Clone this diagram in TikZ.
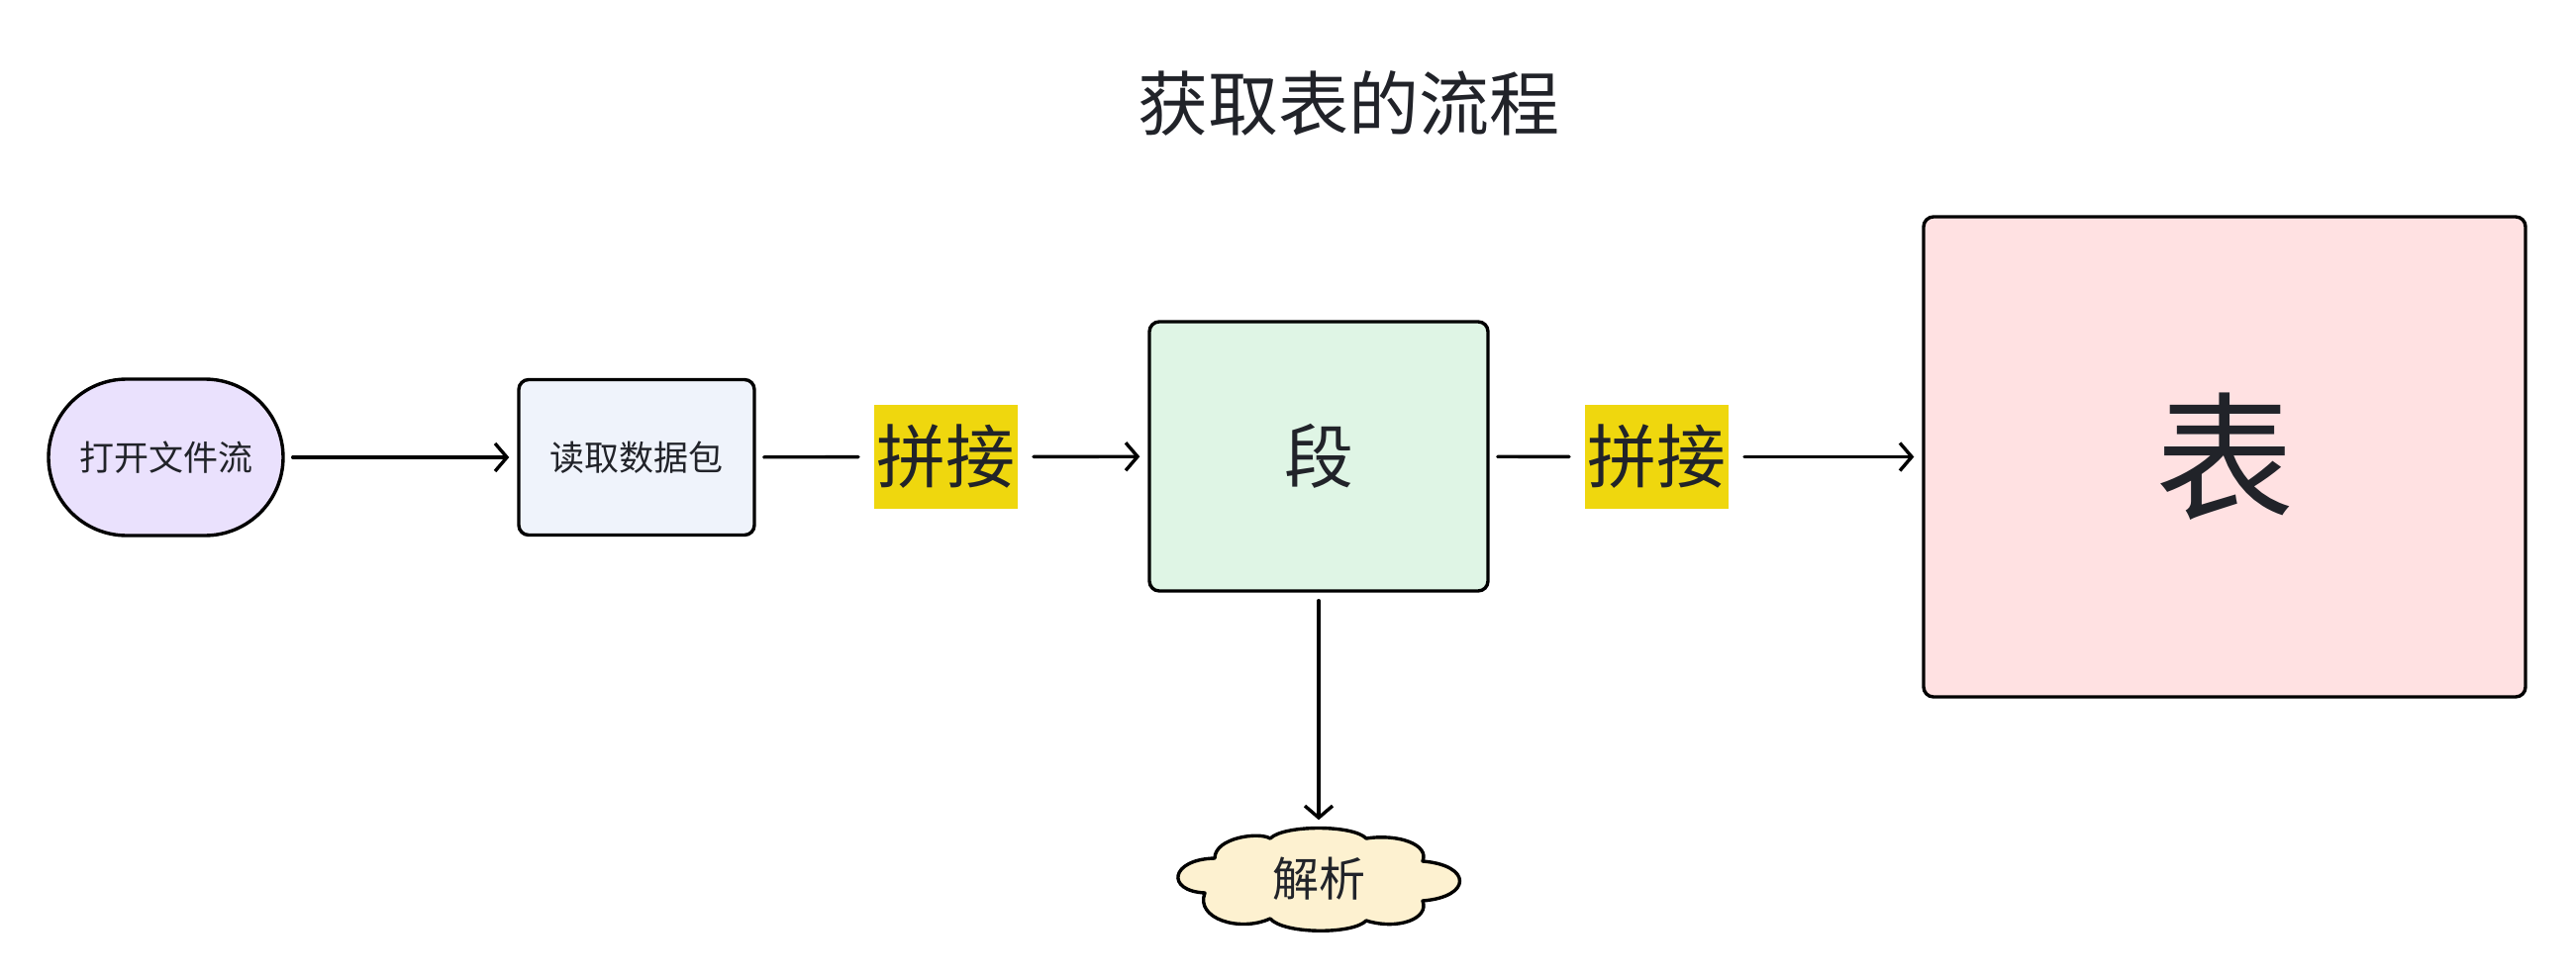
\documentclass[tikz,border=0pt]{standalone}
\usepackage{fontspec}
\setmainfont{Noto Sans CJK SC}
\usetikzlibrary{arrows.meta,shapes.misc}
\definecolor{txt}{HTML}{212329}
\definecolor{lav}{HTML}{EAE1FD}
\definecolor{blu}{HTML}{EFF3FB}
\definecolor{grn}{HTML}{DFF5E5}
\definecolor{pnk}{HTML}{FFE1E2}
\definecolor{cld}{HTML}{FDF1D0}
\definecolor{ylw}{HTML}{EFD70E}
\begin{document}
\begin{tikzpicture}[x=1pt,y=-1pt,
  shp/.style={draw=black,line width=3.4pt,text=txt,inner sep=0pt},
  boxnode/.style={shp,rectangle,rounded corners=10pt},
  lbl/.style={fill=ylw,text=txt,inner xsep=2.5pt,inner ysep=0pt,minimum height=105pt,outer sep=8pt,font=\fontsize{70}{70}\selectfont},
  conn/.style={line width=3.4pt,line cap=round,shorten >=8pt,shorten <=8pt},
  arr/.style={conn,-{Straight Barb[length=12pt,width=28pt,line width=3.4pt]}}]
\useasboundingbox[fill=white] (0,0) rectangle (2602,990);
\node[text=txt,font=\fontsize{71}{80}\selectfont] (title) at (1362,104) {获取表的流程};
\node[shp,rounded rectangle,fill=lav,minimum width=237pt,minimum height=158pt,font=\fontsize{35}{40}\selectfont] (open) at (167.5,462) {打开文件流};
\node[boxnode,fill=blu,minimum width=238pt,minimum height=157pt,font=\fontsize{35}{40}\selectfont] (read) at (643,462) {读取数据包};
\node[lbl] (j1) at (955.5,461.5) {拼接};
\node[boxnode,fill=grn,minimum width=342pt,minimum height=272pt,font=\fontsize{70}{70}\selectfont] (seg) at (1332,461) {段};
\node[lbl] (j2) at (1673.5,461.5) {拼接};
\node[boxnode,fill=pnk,minimum width=608pt,minimum height=485pt,font=\fontsize{140}{140}\selectfont] (tab) at (2247,461.5) {表};
\coordinate (pc) at (1332,888);
\begin{scope}[shift={(pc)}]
\draw[line width=3.4pt,fill=cld,line join=round]
  (-105,-21) .. controls (-105,-42) and (-60,-48) .. (-49,-41)
  .. controls (-35,-55) and (35,-55) .. (48,-41)
  .. controls (80,-46) and (112,-35) .. (105,-18)
  .. controls (155,-14) and (155,18) .. (105,22)
  .. controls (112,40) and (80,52) .. (48,42)
  .. controls (35,56) and (-35,56) .. (-49,40)
  .. controls (-80,54) and (-125,40) .. (-115,14)
  .. controls (-155,12) and (-150,-20) .. cycle;
\end{scope}
\node[text=txt,inner sep=0pt,minimum width=292pt,minimum height=103pt,font=\fontsize{47}{50}\selectfont] (parse) at (pc) {解析};
\draw[arr] (open) -- (read);
\draw[conn] (read) -- (j1);
\draw[arr] (j1) -- (seg);
\draw[conn] (seg) -- (j2);
\draw[arr] (j2) -- (tab);
\draw[arr] (seg) -- (parse);
\end{tikzpicture}
\end{document}
